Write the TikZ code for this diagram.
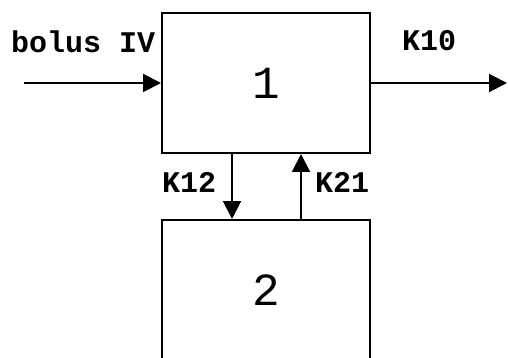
\documentclass[tikz,border=0pt]{standalone}
\usepackage{fontspec}
\setmonofont{Liberation Mono}
\usetikzlibrary{arrows.meta}
\tikzset{
  comp/.style={draw,line width=2pt,minimum width=208pt,minimum height=140pt,
    font=\ttfamily\fontsize{46}{46}\selectfont},
  flow/.style={line width=2pt,-{Triangle[length=18pt,width=18pt]}},
  rate/.style={anchor=base west,inner sep=0pt,
    font=\ttfamily\bfseries\fontsize{30}{30}\selectfont}
}
\begin{document}
\begin{tikzpicture}[x=1pt,y=-1pt]
  \useasboundingbox (0,0) rectangle (508,358);
  \clip (0,0) rectangle (508,358);
  \node[comp] (c1) at (266,83) {1};
  \node[comp] (c2) at (266,290) {2};
  \coordinate (in) at (24,83);
  \coordinate (out) at (507,83);
  \draw[flow] (in) -- (c1.west);
  \draw[flow] (c1.east) -- (out);
  \draw[flow] ([xshift=-34pt]c1.south) -- ([xshift=-34pt]c2.north);
  \draw[flow] ([xshift=35pt]c2.north) -- ([xshift=35pt]c1.south);
  \node[rate] (lbolus) at (11,53) {bolus IV};
  \node[rate] (lk10) at (402,51) {K10};
  \node[rate] (lk12) at (162,192) {K12};
  \node[rate] (lk21) at (315,192) {K21};
\end{tikzpicture}
\end{document}
